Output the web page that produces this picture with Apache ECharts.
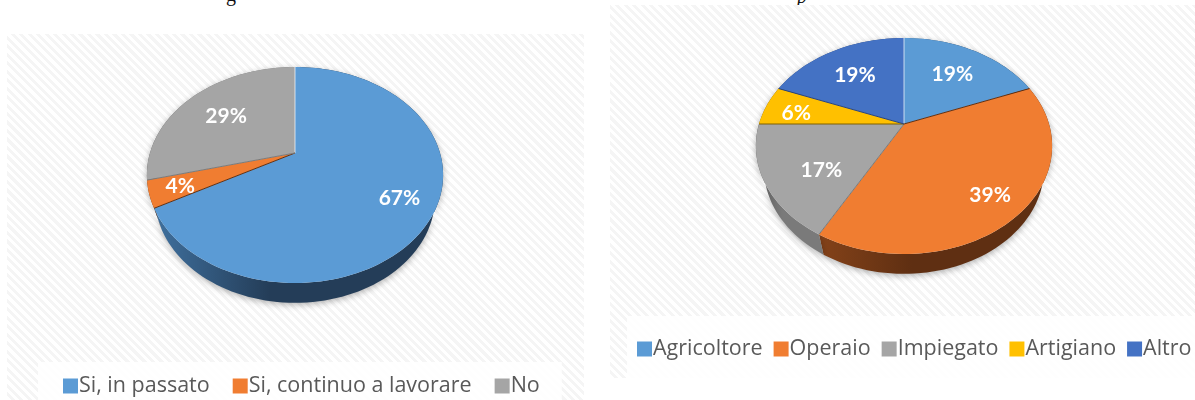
<!DOCTYPE html>
<html>
<head>
<meta charset="utf-8">
<title>Grafici a torta</title>
<script src="https://cdn.jsdelivr.net/npm/echarts@6/dist/echarts.min.js"></script>
<style>
  html, body { margin: 0; padding: 0; background: #fff; overflow: hidden; }
  body { position: relative; width: 1195px; height: 400px; }
  .panel {
    position: absolute;
    background: repeating-linear-gradient(45deg, #fff 0 3px, #f5f5f5 3px 6px);
  }
  #lavoro { left: 7px; top: 34px; width: 577px; height: 366px; }
  #professione { left: 610px; top: 5px; width: 585px; height: 373px; }
  .cut { position: absolute; font: 20px "Liberation Serif", serif; color: #111; line-height: 20px; }
</style>
</head>
<body>
<span class="cut" style="left:226px; top:-16px;">g</span>
<span class="cut" style="left:797px; top:-14px; font-style:italic;">p</span>
<div id="lavoro" class="panel"></div>
<div id="professione" class="panel"></div>
<script>
const lavoroCategories = ['Si, in passato', 'Si, continuo a lavorare', 'No']
const lavoroValues = [67, 4, 29]
const professioneCategories = ['Agricoltore', 'Operaio', 'Impiegato', 'Artigiano', 'Altro']
const professioneValues = [19, 39, 17, 6, 19]

// colori delle fette: faccia, bordo laterale chiaro, bordo laterale scuro
const blue = ['#5b9bd5', '#3f709e', '#243d58']
const orange = ['#f07d31', '#844219', '#5f2f12']
const grey = ['#a5a5a5', '#595959', '#7a7a7a']
const yellow = ['#ffc000', '#7f6000', '#7f6000']
const darkBlue = ['#4472c4', '#2a4478', '#2a4478']

const deg = Math.PI / 180

// la torta di Office e' in prospettiva: il centro non sta a meta' dell'ellisse
const makeProjection = (cx, top, apex, bottom) => {
  const c = (top + bottom - 2 * apex) / (bottom - top)
  const a = top * (1 + c) - apex
  const rx = 145
  const midY = (top + bottom) / 2
  const face = (theta, f) => {
    const w = f * Math.cos(theta)
    const d = 1 + c * w
    return [cx + rx * f * Math.sin(theta) / d, (a * w + apex) / d]
  }
  const base = (theta) => {
    const p = face(theta, 1)
    return [cx + (p[0] - cx) * 0.946, midY + 22 + (p[1] - midY) * 0.98]
  }
  return { face, base }
}

const drawPie = (el, categories, values, colors, centerX, labelRadius, labelTurn, legendOption) => {
  const chart = echarts.init(el, null, { renderer: 'canvas' })
  const proj = makeProjection(centerX, 33, 119, 249)
  const total = values.reduce((s, v) => s + v, 0)
  let running = 0
  const series = categories.map((name, i) => {
    const before = running
    running += values[i]
    return {
      name,
      type: 'custom',
      coordinateSystem: 'none',
      itemStyle: { color: colors[i][0] },
      data: [[values[i]]],
      renderItem: (params, api) => {
        const value = api.value(0)
        const start = before / total * 360
        const end = (before + value) / total * 360
        const rim = []
        const low = []
        for (let t = start; t < end; t += 2) {
          rim.push(proj.face(t * deg, 1))
          low.push(proj.base(t * deg))
        }
        rim.push(proj.face(end * deg, 1))
        low.push(proj.base(end * deg))
        const apex = proj.face(0, 0)
        const mid = ((start + end) / 2 + labelTurn[i]) * deg
        const labelAt = proj.face(mid, labelRadius[i])
        const children = [
          {
            type: 'polygon',
            z2: 1,
            shape: { points: rim.concat(low.slice().reverse()) },
            style: {
              fill: {
                type: 'linear', x: 0, y: 0, x2: 1, y2: 0,
                colorStops: [
                  { offset: 0, color: colors[i][1] },
                  { offset: 0.4, color: colors[i][2] },
                  { offset: 1, color: colors[i][2] }
                ]
              },
              shadowBlur: 6,
              shadowOffsetY: 2,
              shadowColor: 'rgba(0,0,0,0.3)'
            }
          },
          {
            type: 'polygon',
            z2: 10,
            shape: { points: [apex].concat(rim) },
            style: { fill: colors[i][0] }
          },
          {
            // filo tra le fette, chiaro a ore 12
            type: 'line',
            z2: 15,
            shape: { x1: apex[0], y1: apex[1], x2: rim[0][0], y2: rim[0][1] },
            style: { stroke: i === 0 ? 'rgba(255,255,255,0.7)' : colors[i][2], lineWidth: 1 }
          },
          {
            type: 'text',
            z2: 20,
            x: labelAt[0],
            y: labelAt[1] + 1,
            style: {
              text: value + '%',
              fill: '#fff',
              font: 'bold 21px Lato',
              align: 'center',
              verticalAlign: 'middle'
            }
          }
        ]
        return { type: 'group', children }
      }
    }
  })
  chart.setOption({
    animation: false,
    backgroundColor: 'transparent',
    legend: Object.assign({
      data: categories,
      orient: 'horizontal',
      icon: 'rect',
      itemWidth: 15,
      itemHeight: 15,
      selectedMode: false,
      backgroundColor: 'rgba(255,255,255,0.85)',
      textStyle: { color: '#595959', fontSize: 21.5, fontFamily: 'Open Sans', padding: [0, 0, 0, -4] }
    }, legendOption),
    series
  })
}

drawPie(
  document.getElementById('lavoro'),
  lavoroCategories,
  lavoroValues,
  [blue, orange, grey],
  288,
  [0.77, 0.8, 0.65],
  [0, 0, 0],
  { left: 31, top: 328, width: 520, itemGap: 23, padding: [13, 22, 8, 25] }
)

drawPie(
  document.getElementById('professione'),
  professioneCategories,
  professioneValues,
  [blue, orange, grey, yellow, darkBlue],
  294,
  [0.66, 0.79, 0.66, 0.77, 0.65],
  [0, 0, -7, -2, -1],
  { left: 17, top: 311, width: 570, itemGap: 11, padding: [22, 10, 22, 10] }
)
</script>
</body>
</html>
